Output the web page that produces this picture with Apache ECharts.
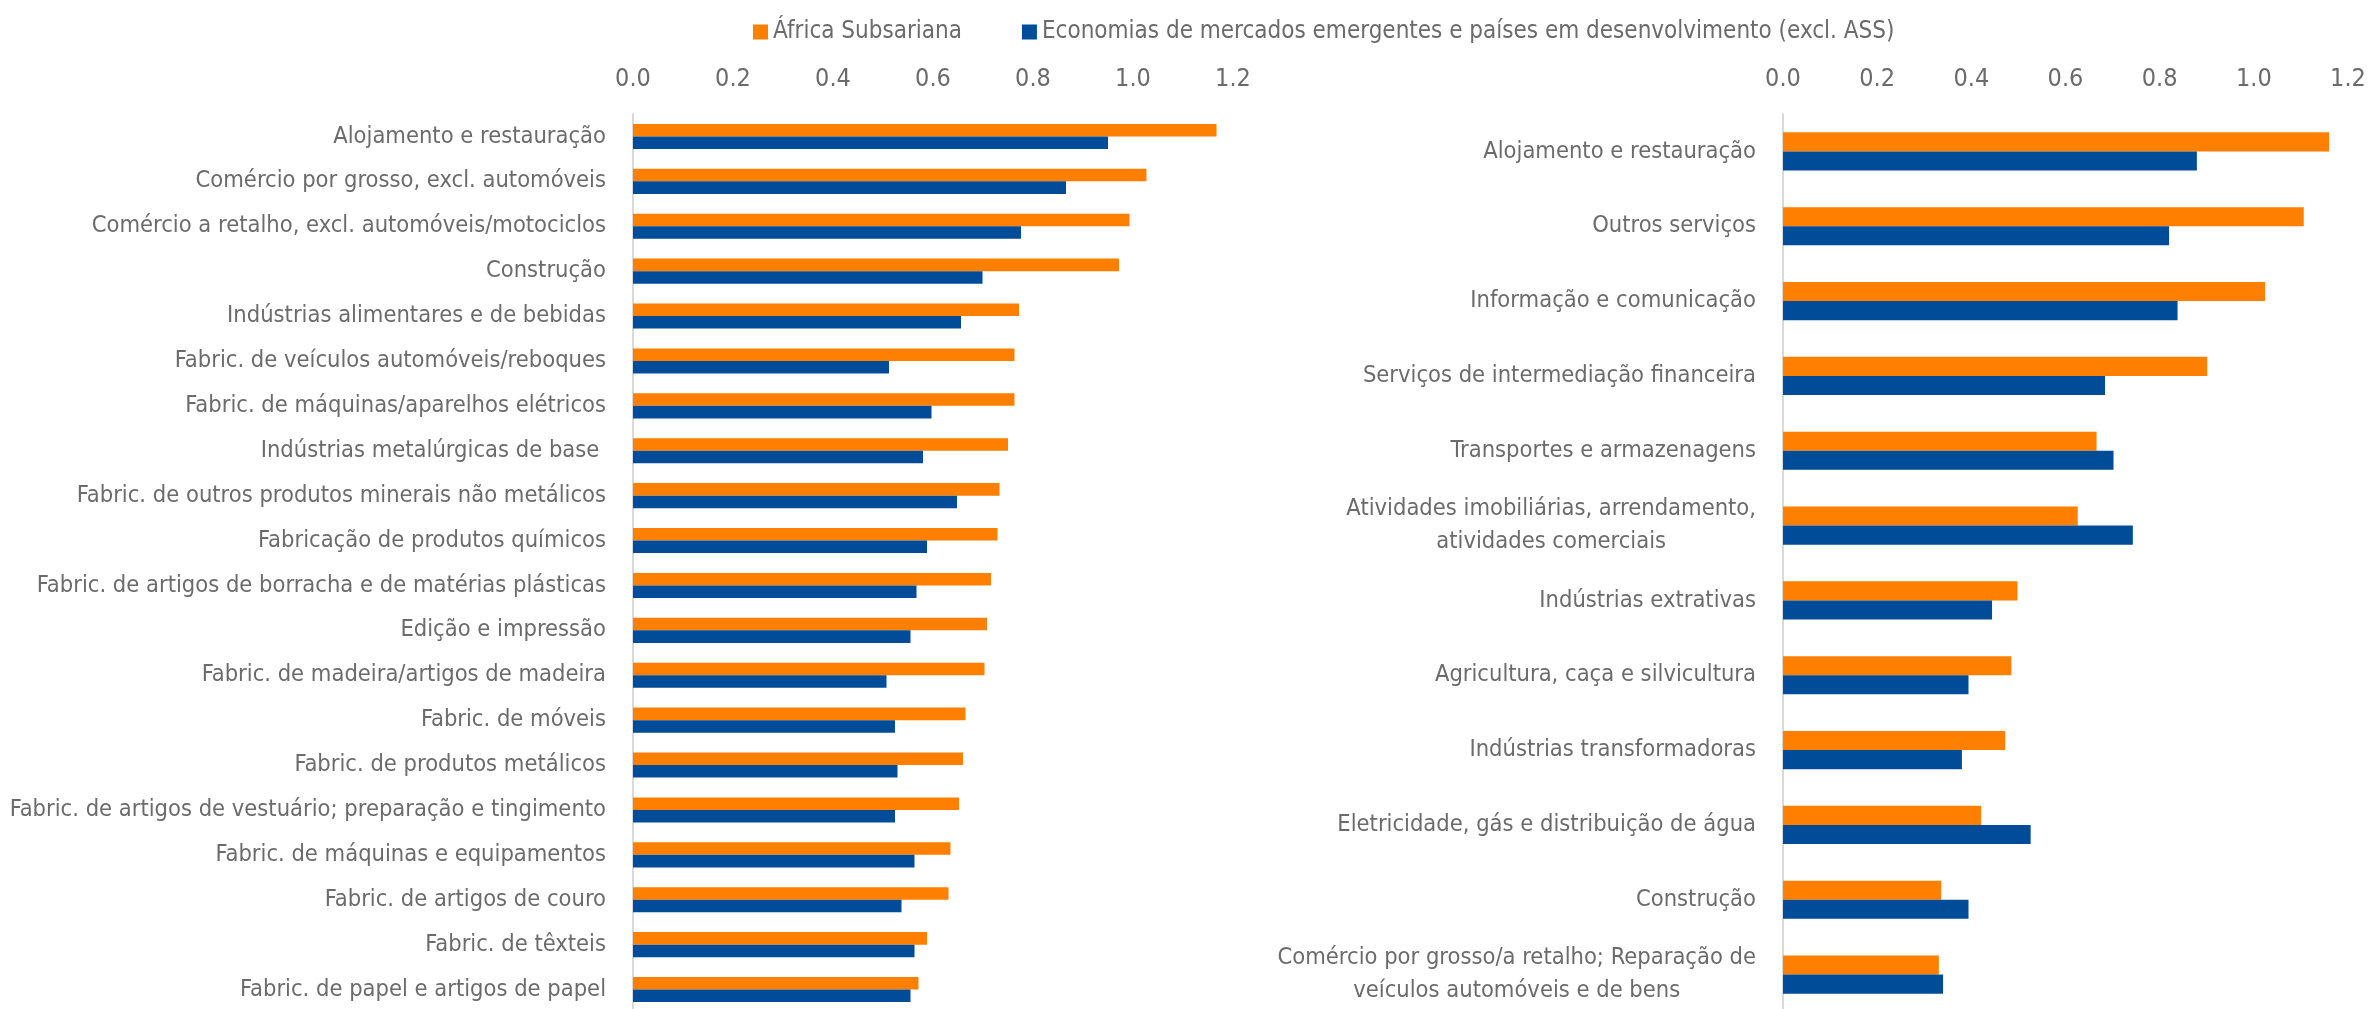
<!DOCTYPE html>
<html>
<head>
<meta charset="utf-8">
<script src="https://cdn.jsdelivr.net/npm/echarts@6/dist/echarts.min.js"></script>
<style>html,body{margin:0;padding:0;background:#fff}#c{width:2369px;height:1009px}</style>
</head>
<body>
<div id="c"></div>
<script>
const seriesNames = ['África Subsariana', 'Economias de mercados emergentes e países em desenvolvimento (excl. ASS)'];
const leftCategories = [
  'Alojamento e restauração',
  'Comércio por grosso, excl. automóveis',
  'Comércio a retalho, excl. automóveis/motociclos',
  'Construção',
  'Indústrias alimentares e de bebidas',
  'Fabric. de veículos automóveis/reboques',
  'Fabric. de máquinas/aparelhos elétricos',
  'Indústrias metalúrgicas de base ',
  'Fabric. de outros produtos minerais não metálicos',
  'Fabricação de produtos químicos',
  'Fabric. de artigos de borracha e de matérias plásticas',
  'Edição e impressão',
  'Fabric. de madeira/artigos de madeira',
  'Fabric. de móveis',
  'Fabric. de produtos metálicos',
  'Fabric. de artigos de vestuário; preparação e tingimento',
  'Fabric. de máquinas e equipamentos',
  'Fabric. de artigos de couro',
  'Fabric. de têxteis',
  'Fabric. de papel e artigos de papel'
];
const leftSSA = [1.167, 1.027, 0.993, 0.972, 0.772, 0.763, 0.763, 0.750, 0.733, 0.729, 0.716, 0.708, 0.703, 0.665, 0.660, 0.652, 0.635, 0.631, 0.588, 0.571];
const leftEMDE = [0.950, 0.866, 0.776, 0.699, 0.656, 0.512, 0.597, 0.580, 0.648, 0.588, 0.567, 0.555, 0.507, 0.524, 0.529, 0.524, 0.563, 0.537, 0.563, 0.555];

const rightCategories = [
  'Alojamento e restauração',
  'Outros serviços',
  'Informação e comunicação',
  'Serviços de intermediação financeira',
  'Transportes e armazenagens',
  'Atividades imobiliárias, arrendamento,\natividades comerciais',
  'Indústrias extrativas',
  'Agricultura, caça e silvicultura',
  'Indústrias transformadoras',
  'Eletricidade, gás e distribuição de água',
  'Construção',
  'Comércio por grosso/a retalho; Reparação de\nveículos automóveis e de bens'
];
const rightSSA = [1.160, 1.106, 1.024, 0.901, 0.666, 0.626, 0.498, 0.485, 0.472, 0.421, 0.336, 0.331];
const rightEMDE = [0.879, 0.820, 0.838, 0.684, 0.702, 0.743, 0.444, 0.394, 0.380, 0.526, 0.394, 0.340];

const axisTicks = [0, 0.2, 0.4, 0.6, 0.8, 1.0, 1.2];

const FONT = "'Liberation Sans Narrow', 'Arial Narrow', 'DejaVu Sans Condensed', 'Liberation Sans', sans-serif";
const TXT = '#6b6b6b';
const ORANGE = '#FF8000';
const BLUE = '#004C98';
const FS = 23.5;

const chart = echarts.init(document.getElementById('c'), null, {renderer: 'canvas'});

function valueAxis(gridIndex) {
  return {
    type: 'value', gridIndex: gridIndex, position: 'top',
    min: axisTicks[0], max: axisTicks[axisTicks.length - 1], interval: 0.2,
    axisLine: {show: false}, axisTick: {show: false}, splitLine: {show: false},
    axisLabel: {show: true, margin: 22, color: TXT, fontSize: 25, fontFamily: FONT,
      formatter: v => v.toFixed(1)}
  };
}
function catAxis(gridIndex, cats, rich) {
  const lab = {show: true, margin: 27, color: TXT, fontSize: FS, fontFamily: FONT, align: 'right'};
  if (rich) {
    lab.formatter = s => s.split('\n').map(l => '{c|' + l + '}').join('\n');
    lab.rich = {c: {align: 'center', color: TXT, fontSize: FS, fontFamily: FONT, lineHeight: 33}};
  }
  return {
    type: 'category', gridIndex: gridIndex, data: cats, inverse: true,
    axisLine: {show: true, lineStyle: {color: '#d9d9d9', width: 2}},
    axisTick: {show: false}, splitLine: {show: false},
    axisLabel: lab
  };
}

chart.setOption({
  animation: false,
  backgroundColor: '#fff',
  textStyle: {fontFamily: FONT},
  legend: {
    left: 748, top: 15, itemWidth: 15, itemHeight: 15, itemGap: 60, icon: 'rect',
    textStyle: {color: TXT, fontSize: 24, fontFamily: FONT},
    data: seriesNames
  },
  grid: [
    {left: 633, top: 114, width: 600, height: 898, containLabel: false, outerBoundsMode: 'none'},
    {left: 1783, top: 114, width: 565, height: 898, containLabel: false, outerBoundsMode: 'none'}
  ],
  xAxis: [valueAxis(0), valueAxis(1)],
  yAxis: [catAxis(0, leftCategories, false), catAxis(1, rightCategories, true)],
  series: [
    {name: seriesNames[0], type: 'bar', xAxisIndex: 0, yAxisIndex: 0, data: leftSSA, itemStyle: {color: ORANGE}, barGap: '0%', barCategoryGap: '44%'},
    {name: seriesNames[1], type: 'bar', xAxisIndex: 0, yAxisIndex: 0, data: leftEMDE, itemStyle: {color: BLUE}, barGap: '0%', barCategoryGap: '44%'},
    {name: seriesNames[0], type: 'bar', xAxisIndex: 1, yAxisIndex: 1, data: rightSSA, itemStyle: {color: ORANGE}, barGap: '0%', barCategoryGap: '49%'},
    {name: seriesNames[1], type: 'bar', xAxisIndex: 1, yAxisIndex: 1, data: rightEMDE, itemStyle: {color: BLUE}, barGap: '0%', barCategoryGap: '49%'}
  ]
});
</script>
</body>
</html>
